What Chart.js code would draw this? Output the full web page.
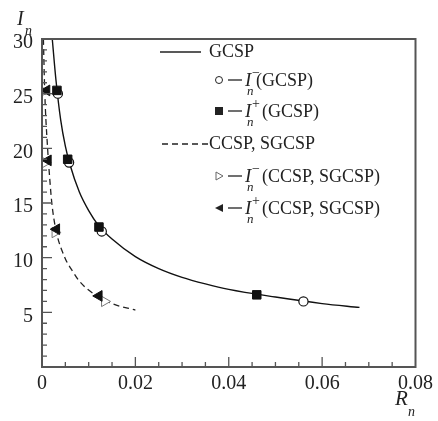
<!DOCTYPE html>
<html>
<head>
<meta charset="utf-8">
<script src="https://cdn.jsdelivr.net/npm/chart.js@4"></script>
<style>
  body { margin: 0; background: #fff; }
  #wrap { width: 438px; height: 421px; }
</style>
</head>
<body>
<div id="wrap"><canvas id="c" width="438" height="421"></canvas></div>
<script>
// values (R_n, I_n)
const gcspCurve = [[0.0022,30],[0.003,26.2],[0.004,22.6],[0.005,20.2],[0.006,18.5],[0.008,16],[0.01,14.3],[0.012,13],[0.015,11.7],[0.02,10.1],[0.025,9.0],[0.03,8.2],[0.035,7.6],[0.04,7.1],[0.05,6.4],[0.06,5.8],[0.068,5.45]];
const ccspCurve = [[0.0003,30],[0.0006,25],[0.0012,20],[0.0017,17],[0.0021,15],[0.003,12.5],[0.0049,10],[0.0065,8.8],[0.0081,7.8],[0.0117,6.5],[0.015,5.8],[0.02,5.2]];
const gcspMinus = [[0.0034,25.0],[0.0058,18.7],[0.0128,12.4],[0.056,6.0]];
const gcspPlus = [[0.0032,25.3],[0.0055,19.0],[0.0122,12.8],[0.046,6.6]];
const ccspMinus = [[0.0003,25.2],[0.0007,18.7],[0.0028,12.3],[0.0134,6.0]];
const ccspPlus = [[0.001,25.3],[0.0013,18.9],[0.0031,12.6],[0.0122,6.5]];
const xTicks = [0, 0.02, 0.04, 0.06, 0.08];
const yTicks = [5, 10, 15, 20, 25, 30];

const pts = a => a.map(p => ({ x: p[0], y: p[1] }));
const SERIF = "'Liberation Serif', 'Times New Roman', serif";
const AXIS = '#555';

// inward ticks + frame
const framePlugin = {
  id: 'frame',
  afterDraw(chart) {
    const { ctx, chartArea: a, scales: { x, y } } = chart;
    ctx.save();
    ctx.strokeStyle = AXIS;
    ctx.lineWidth = 1.3;
    ctx.beginPath();
    for (let i = 1; i < 16; i++) {
      const v = i * 0.005, px = x.getPixelForValue(v);
      const len = (i % 4 === 0) ? 10 : 5;
      ctx.moveTo(px, a.bottom); ctx.lineTo(px, a.bottom - len);
    }
    for (let i = 1; i < 30; i++) {
      const py = y.getPixelForValue(i);
      const len = (i % 5 === 0) ? 10 : 5;
      ctx.moveTo(a.left, py); ctx.lineTo(a.left + len, py);
    }
    ctx.stroke();
    ctx.lineWidth = 2;
    ctx.strokeRect(a.left, a.top, a.right - a.left, a.bottom - a.top);
    ctx.restore();
  }
};

function drawIn(ctx, x, base, sup) {
  ctx.font = 'italic 19px ' + SERIF;
  ctx.fillText('I', x, base);
  ctx.font = 'italic 13px ' + SERIF;
  ctx.fillText('n', x + 2, base + 9);
  ctx.font = '14px ' + SERIF;
  ctx.fillText(sup, x + 7, base - 9);
}

const textPlugin = {
  id: 'texts',
  afterDraw(chart) {
    const ctx = chart.ctx;
    ctx.save();
    ctx.fillStyle = '#222';
    ctx.strokeStyle = '#222';
    ctx.textBaseline = 'alphabetic';
    ctx.textAlign = 'left';
    // axis titles
    ctx.font = 'italic 20px ' + SERIF;
    ctx.fillText('I', 17, 25);
    ctx.font = 'italic 14px ' + SERIF;
    ctx.fillText('n', 25, 35);
    ctx.font = 'italic 21px ' + SERIF;
    ctx.fillText('R', 395, 405);
    ctx.font = 'italic 14px ' + SERIF;
    ctx.fillText('n', 408, 416);

    // legend
    const base = [57, 86, 117, 149, 182, 214];
    ctx.lineWidth = 1.3;
    ctx.beginPath(); ctx.moveTo(160, 52); ctx.lineTo(201, 52); ctx.stroke();
    ctx.setLineDash([6, 4]);
    ctx.beginPath(); ctx.moveTo(162, 144); ctx.lineTo(208, 144); ctx.stroke();
    ctx.setLineDash([]);
    ctx.font = '18px ' + SERIF;
    ctx.fillText('GCSP', 209, base[0]);
    ctx.fillText('CCSP, SGCSP', 209, base[3]);
    [1, 2, 4, 5].forEach(i => {
      const my = base[i] - 6;
      ctx.beginPath(); ctx.moveTo(228, my); ctx.lineTo(242, my); ctx.stroke();
    });
    // markers
    ctx.lineWidth = 1;
    ctx.beginPath(); ctx.arc(219, base[1] - 6, 3.5, 0, Math.PI * 2); ctx.stroke();
    ctx.fillRect(215, base[2] - 10, 8, 8);
    ctx.strokeStyle = '#666';
    ctx.beginPath(); ctx.moveTo(216, base[4] - 10); ctx.lineTo(223, base[4] - 6); ctx.lineTo(216, base[4] - 2); ctx.closePath(); ctx.stroke();
    ctx.beginPath(); ctx.moveTo(223, base[5] - 10); ctx.lineTo(215, base[5] - 6); ctx.lineTo(223, base[5] - 2); ctx.closePath(); ctx.fill();
    drawIn(ctx, 245, base[1], '\u2212');
    drawIn(ctx, 245, base[2], '+');
    drawIn(ctx, 245, base[4], '\u2212');
    drawIn(ctx, 245, base[5], '+');
    ctx.font = '18px ' + SERIF;
    ctx.fillText('(GCSP)', 256, base[1]);
    ctx.fillText('(GCSP)', 262, base[2]);
    ctx.fillText('(CCSP, SGCSP)', 262, base[4]);
    ctx.fillText('(CCSP, SGCSP)', 262, base[5]);
    ctx.restore();
  }
};

const marker = (data, style, extra) => Object.assign({
  data: pts(data), showLine: false, pointStyle: style,
  pointBackgroundColor: '#111', pointBorderColor: '#111', pointBorderWidth: 1, pointRadius: 5
}, extra);

new Chart(document.getElementById('c'), {
  type: 'scatter',
  data: {
    datasets: [
      marker(ccspPlus, 'triangle', { pointRotation: -90, pointRadius: 6.2 }),
      marker(ccspMinus, 'triangle', { pointRotation: 90, pointRadius: 6, pointBackgroundColor: '#fff', pointBorderColor: '#777' }),
      marker(gcspPlus, 'rect', { pointRadius: 6 }),
      marker(gcspMinus, 'circle', { pointRadius: 4.6, pointBackgroundColor: '#fff', pointBorderWidth: 1.2 }),
      { data: pts(ccspCurve), showLine: true, pointRadius: 0, borderColor: '#222', borderWidth: 1.3, borderDash: [6, 4], cubicInterpolationMode: 'monotone' },
      { data: pts(gcspCurve), showLine: true, pointRadius: 0, borderColor: '#111', borderWidth: 1.4, cubicInterpolationMode: 'monotone' }
    ]
  },
  options: {
    responsive: false,
    animation: false,
    layout: { padding: { left: 0, top: 39, right: 21, bottom: 0 } },
    plugins: { legend: { display: false }, tooltip: { enabled: false } },
    scales: {
      x: {
        type: 'linear', min: 0, max: 0.08,
        afterFit: s => { s.height = 54; },
        afterBuildTicks: s => { s.ticks = xTicks.map(v => ({ value: v })); },
        grid: { display: false, drawTicks: false },
        border: { display: false },
        ticks: { padding: 5, color: '#222', font: { family: SERIF, size: 20 }, autoSkip: false, maxRotation: 0,
          callback: v => String(Math.round(v * 100) / 100) }
      },
      y: {
        type: 'linear', min: 0, max: 30,
        afterFit: s => { s.width = 42; },
        afterBuildTicks: s => { s.ticks = yTicks.map(v => ({ value: v })); },
        grid: { display: false, drawTicks: false },
        border: { display: false },
        ticks: { padding: 9, color: '#222', font: { family: SERIF, size: 20 }, labelOffset: 4, autoSkip: false }
      }
    }
  },
  plugins: [framePlugin, textPlugin]
});
</script>
</body>
</html>
